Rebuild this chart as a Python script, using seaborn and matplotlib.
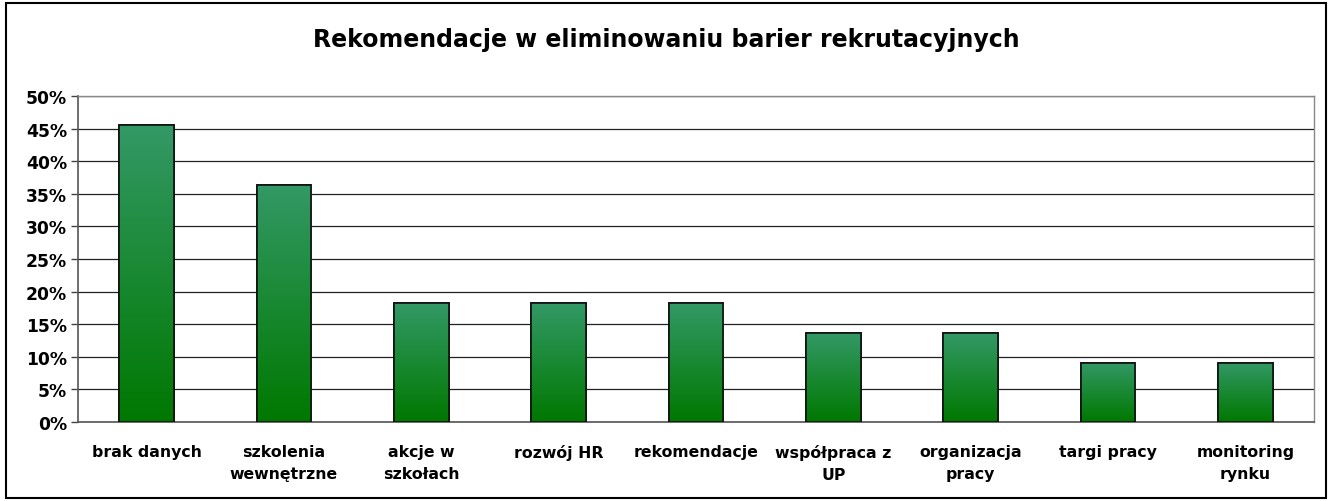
import matplotlib
matplotlib.use("Agg")
import matplotlib.pyplot as plt
import matplotlib.patches as mpatches
import numpy as np
import pandas as pd
import seaborn as sns
from matplotlib.colors import LinearSegmentedColormap
from matplotlib.ticker import FixedLocator, PercentFormatter

categories = [
    "brak danych",
    "szkolenia\nwewnętrzne",
    "akcje w\nszkołach",
    "rozwój HR",
    "rekomendacje",
    "współpraca z\nUP",
    "organizacja\npracy",
    "targi pracy",
    "monitoring\nrynku",
]
values = [45.5, 36.4, 18.2, 18.2, 18.2, 13.6, 13.6, 9.1, 9.1]
title = "Rekomendacje w eliminowaniu barier rekrutacyjnych"

df = pd.DataFrame({"kategoria": categories, "udzial": values})

sns.set_theme(style="white")
plt.rcParams["font.family"] = ["DejaVu Sans"]

fig = plt.figure(figsize=(13.33, 5.02), dpi=100)
ax = fig.add_axes([78 / 1333, 1 - 423 / 502, (1314 - 78) / 1333, (423 - 97) / 502])

sns.barplot(data=df, x="kategoria", y="udzial", color="#1f8a3f", width=0.4,
            edgecolor="black", linewidth=1.2, ax=ax, zorder=3)

# gradient fill inside each bar (light green on top, dark green at bottom)
cmap = LinearSegmentedColormap.from_list("g", ["#007800", "#339966"])
grad = np.linspace(0, 1, 256).reshape(-1, 1)
for p in ax.patches:
    x0, y0 = p.get_x(), p.get_y()
    w, h = p.get_width(), p.get_height()
    im = ax.imshow(grad, cmap=cmap, origin="lower", aspect="auto",
                   extent=[x0, x0 + w, y0, y0 + h], zorder=3.5)
    im.set_clip_path(p)
    ax.add_patch(mpatches.Rectangle((x0, y0), w, h, fill=False,
                                    edgecolor="#111111", linewidth=1.2, zorder=4))
ax.set_xlim(-0.5, len(categories) - 0.5)
ax.set_ylim(0, 50)

ax.yaxis.set_major_locator(FixedLocator(np.arange(0, 51, 5)))
ax.yaxis.set_major_formatter(PercentFormatter(decimals=0))
ax.grid(axis="y", color="#222222", linewidth=0.9, zorder=0)
ax.set_axisbelow(True)

ax.xaxis.set_minor_locator(FixedLocator(np.arange(-0.5, len(categories), 1)))
ax.tick_params(axis="x", which="major", length=0, pad=16, labelsize=11.3,
               labelcolor="black")
ax.tick_params(axis="x", which="minor", length=5, width=1, color="#444444", direction="out")
ax.tick_params(axis="y", length=5, width=1, color="#444444", direction="out",
               labelsize=12.3, pad=3, left=True, labelcolor="black")
for lab in ax.get_xticklabels():
    lab.set_fontweight("bold")
    lab.set_linespacing(1.55)
for lab in ax.get_yticklabels():
    lab.set_fontweight("bold")

for side in ["left", "bottom"]:
    ax.spines[side].set_color("#555555")
    ax.spines[side].set_linewidth(1.2)
for side in ["top", "right"]:
    ax.spines[side].set_color("#888888")
    ax.spines[side].set_linewidth(1.0)

ax.set_xlabel("")
ax.set_ylabel("")

fig.text(0.5, 1 - 40 / 502, title, ha="center", va="center",
         fontsize=17, fontweight="bold", color="black")

fig.patches.append(mpatches.Rectangle((6 / 1333, 3 / 502), 1320 / 1333, 495 / 502,
                                      transform=fig.transFigure, fill=False,
                                      edgecolor="black", linewidth=1.5))

fig.savefig("out.png", dpi=100)
